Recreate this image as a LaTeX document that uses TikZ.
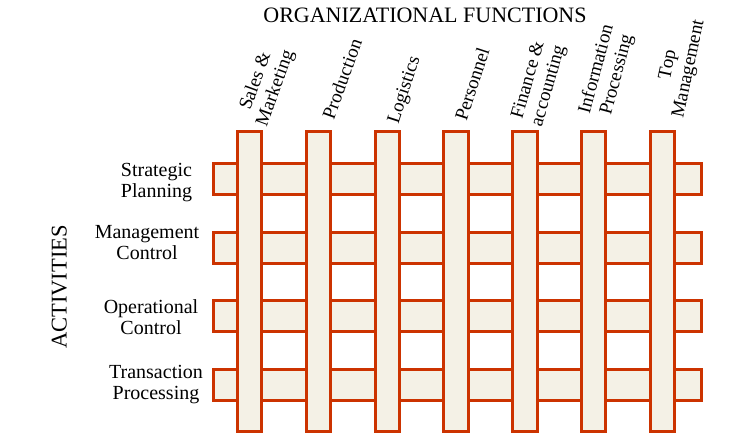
\documentclass[tikz,border=0pt]{standalone}
\usepackage{fontspec}
\setmainfont{Liberation Serif}
\definecolor{barline}{HTML}{CC3300}
\definecolor{barfill}{HTML}{F4F1E6}
\begin{document}
\begin{tikzpicture}[x=1pt,y=-1pt,
  bar/.style={draw=barline,fill=barfill,line width=3pt},
  rowlab/.style={align=center,inner sep=0pt,anchor=north,font=\fontsize{20}{21}\selectfont},
  collab/.style={align=center,inner sep=0pt,anchor=center,font=\fontsize{19}{21}\selectfont},
]
\useasboundingbox (0,0) rectangle (733,439);
% horizontal bars (activities)
\foreach \j in {0,1,2,3}{
  \draw[bar] (213.2,{163.2+68.87*\j}) rectangle (701.2,{194.2+68.87*\j});
}
% vertical bars (functions)
\foreach \i in {0,...,6}{
  \draw[bar] ({237.5+68.83*\i},131.5) rectangle ({261.8+68.83*\i},431.8);
}
% title
\node[inner sep=0pt,anchor=base,font=\fontsize{22}{22}\selectfont] (title) at (425,23) {ORGANIZATIONAL FUNCTIONS};
\node[inner sep=0pt,anchor=base,rotate=90,font=\fontsize{22.5}{22.5}\selectfont] (act) at (66.7,287) {ACTIVITIES};
% row labels
\node[rowlab] (r1) at (156.5,163) {Strategic\\Planning};
\node[rowlab] (r2) at (147,225) {Management\\Control};
\node[rowlab] (r3) at (151,299.6) {Operational\\Control};
\node[rowlab] (r4) at (156,365) {Transaction\\Processing};
% column labels
\node[collab,rotate=70] (c1) at (266,85) {Sales \&\\Marketing};
\node[collab,rotate=70] (c2) at (342,79) {Production};
\node[collab,rotate=72] (c3) at (405,90) {Logistics};
\node[collab,rotate=72] (c4) at (472,84) {Personnel};
\node[collab,rotate=74] (c5) at (539,83) {Finance \&\\accounting};
\node[collab,rotate=75] (c6) at (607,72) {Information\\Processing};
\node[collab,rotate=78] (c7) at (679,67) {Top\\Management};
\end{tikzpicture}
\end{document}
